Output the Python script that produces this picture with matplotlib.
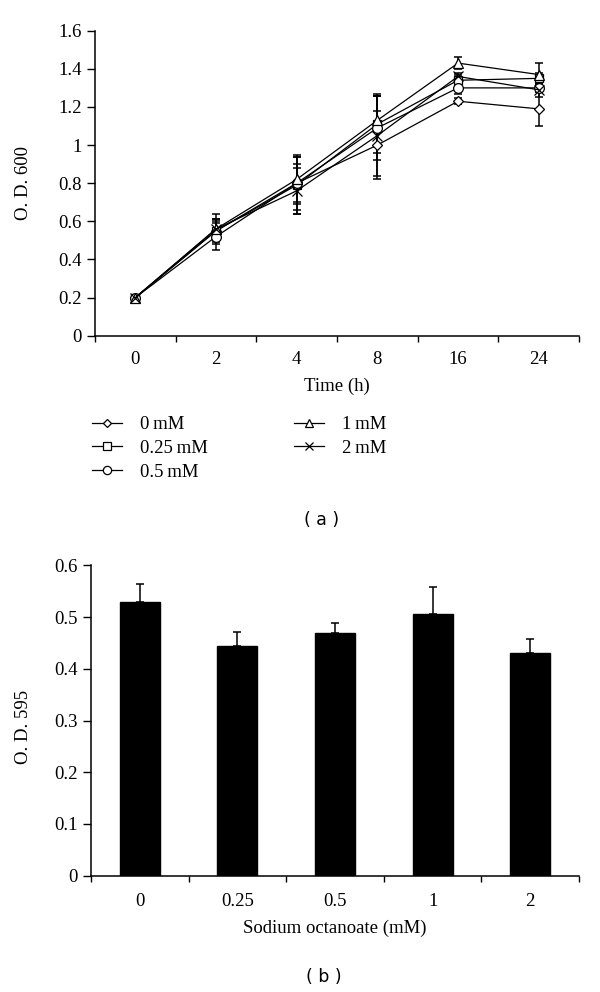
import matplotlib
matplotlib.use("Agg")
import matplotlib.pyplot as plt
from matplotlib.ticker import FixedLocator, NullFormatter

# ---------------- data ----------------
time_labels = ["0", "2", "4", "8", "16", "24"]
series_labels = ["0\u2009mM", "0.25\u2009mM", "0.5\u2009mM", "1\u2009mM", "2\u2009mM"]
od600_0mM = [0.20, 0.55, 0.80, 1.00, 1.23, 1.19]
od600_025mM = [0.20, 0.55, 0.79, 1.11, 1.34, 1.35]
od600_05mM = [0.20, 0.52, 0.80, 1.09, 1.30, 1.30]
od600_1mM = [0.20, 0.56, 0.82, 1.13, 1.43, 1.37]
od600_2mM = [0.20, 0.56, 0.76, 1.05, 1.36, 1.29]
err_0mM = [0.005, 0.05, 0.14, 0.18, 0.015, 0.09]
err_025mM = [0.005, 0.06, 0.15, 0.15, 0.03, 0.03]
err_05mM = [0.005, 0.07, 0.10, 0.17, 0.03, 0.02]
err_1mM = [0.005, 0.05, 0.13, 0.14, 0.03, 0.06]
err_2mM = [0.005, 0.08, 0.12, 0.21, 0.02, 0.04]

conc_labels = ["0", "0.25", "0.5", "1", "2"]
od595 = [0.529, 0.444, 0.469, 0.506, 0.430]
od595_err = [0.035, 0.028, 0.019, 0.053, 0.027]

# ---------------- style ----------------
serif = ["Liberation Serif", "DejaVu Serif"]
plt.rcParams["font.family"] = serif
plt.rcParams["font.size"] = 13.5

fig = plt.figure(figsize=(6.0, 9.92), dpi=100)

W, H = 600.0, 992.0
def axpos(l, t, r, b):
    return [l / W, 1 - b / H, (r - l) / W, (b - t) / H]

# ---------------- panel (a) ----------------
ax1 = fig.add_axes(axpos(95, 30.7, 579, 335.7))
xs = list(range(len(time_labels)))
series = [od600_0mM, od600_025mM, od600_05mM, od600_1mM, od600_2mM]
errs = [err_0mM, err_025mM, err_05mM, err_1mM, err_2mM]
markers = ["D", "s", "o", "^", "x"]
msizes = [5.0, 6.0, 7.0, 7.0, 7.0]
handles = []
for ys, es, m, ms, lab in zip(series, errs, markers, msizes, series_labels):
    ax1.errorbar(xs, ys, yerr=es, fmt="none", ecolor="black", elinewidth=1.1,
                 capsize=3.2, capthick=1.1, zorder=2)
    h, = ax1.plot(xs, ys, color="black", lw=0.9, marker=m, ms=ms,
                  mfc="white", mec="black", mew=0.9, label=lab, zorder=3)
    handles.append(h)

ax1.set_xlim(-0.5, len(time_labels) - 0.5)
ax1.set_ylim(0, 1.6)
ax1.set_yticks([0, 0.2, 0.4, 0.6, 0.8, 1.0, 1.2, 1.4, 1.6])
ax1.set_yticklabels(["0", "0.2", "0.4", "0.6", "0.8", "1", "1.2", "1.4", "1.6"])
ax1.set_xticks(xs)
ax1.set_xticklabels(time_labels)
ax1.xaxis.set_minor_locator(FixedLocator([i - 0.5 for i in range(len(time_labels) + 1)]))
ax1.xaxis.set_minor_formatter(NullFormatter())
ax1.tick_params(axis="x", which="major", length=0, pad=11)
ax1.tick_params(axis="x", which="minor", length=4, width=1.0, direction="out")
ax1.tick_params(axis="y", which="major", length=5.5, width=1.0, direction="out", pad=4)
for s in ["top", "right"]:
    ax1.spines[s].set_visible(False)
for s in ["left", "bottom"]:
    ax1.spines[s].set_linewidth(1.1)
ax1.set_xlabel("Time (h)", labelpad=7)
ax1.set_ylabel("O. D. 600")
ax1.yaxis.set_label_coords(-0.130, 0.5)

fig.legend(handles=handles, labels=series_labels, ncol=2, frameon=False,
           loc="upper left", bbox_to_anchor=(92 / W, 1 - 416 / H),
           handlelength=1.6, handletextpad=0.95, columnspacing=4.62,
           labelspacing=0.35, borderaxespad=0, borderpad=0, markerscale=0.85)

fig.text(322 / W, 1 - 520 / H, "( a )", ha="center", va="center",
         family=["DejaVu Sans"], fontsize=12.5)

# ---------------- panel (b) ----------------
ax2 = fig.add_axes(axpos(91, 565.3, 579, 875.7))
bx = list(range(len(conc_labels)))
ax2.bar(bx, od595, width=0.41, color="black", edgecolor="black", zorder=2)
ax2.errorbar(bx, od595, yerr=[[0] * len(od595), od595_err], fmt="none",
             ecolor="black", elinewidth=1.1, capsize=3.0, capthick=1.1, zorder=3)
ax2.set_xlim(-0.5, len(conc_labels) - 0.5)
ax2.set_ylim(0, 0.6)
ax2.set_yticks([0, 0.1, 0.2, 0.3, 0.4, 0.5, 0.6])
ax2.set_yticklabels(["0", "0.1", "0.2", "0.3", "0.4", "0.5", "0.6"])
ax2.set_xticks(bx)
ax2.set_xticklabels(conc_labels)
ax2.xaxis.set_minor_locator(FixedLocator([i - 0.5 for i in range(len(conc_labels) + 1)]))
ax2.xaxis.set_minor_formatter(NullFormatter())
ax2.tick_params(axis="x", which="major", length=0, pad=12.5)
ax2.tick_params(axis="x", which="minor", length=4.5, width=1.0, direction="out")
ax2.tick_params(axis="y", which="major", length=5.5, width=1.0, direction="out", pad=4)
for s in ["top", "right"]:
    ax2.spines[s].set_visible(False)
for s in ["left", "bottom"]:
    ax2.spines[s].set_linewidth(1.1)
ax2.set_xlabel("Sodium octanoate (mM)", labelpad=7)
ax2.set_ylabel("O. D. 595")
ax2.yaxis.set_label_coords(-0.121, 0.48)

fig.text(324 / W, 1 - 977 / H, "( b )", ha="center", va="center",
         family=["DejaVu Sans"], fontsize=12.5)

fig.savefig("out.png", dpi=100, facecolor="white")
